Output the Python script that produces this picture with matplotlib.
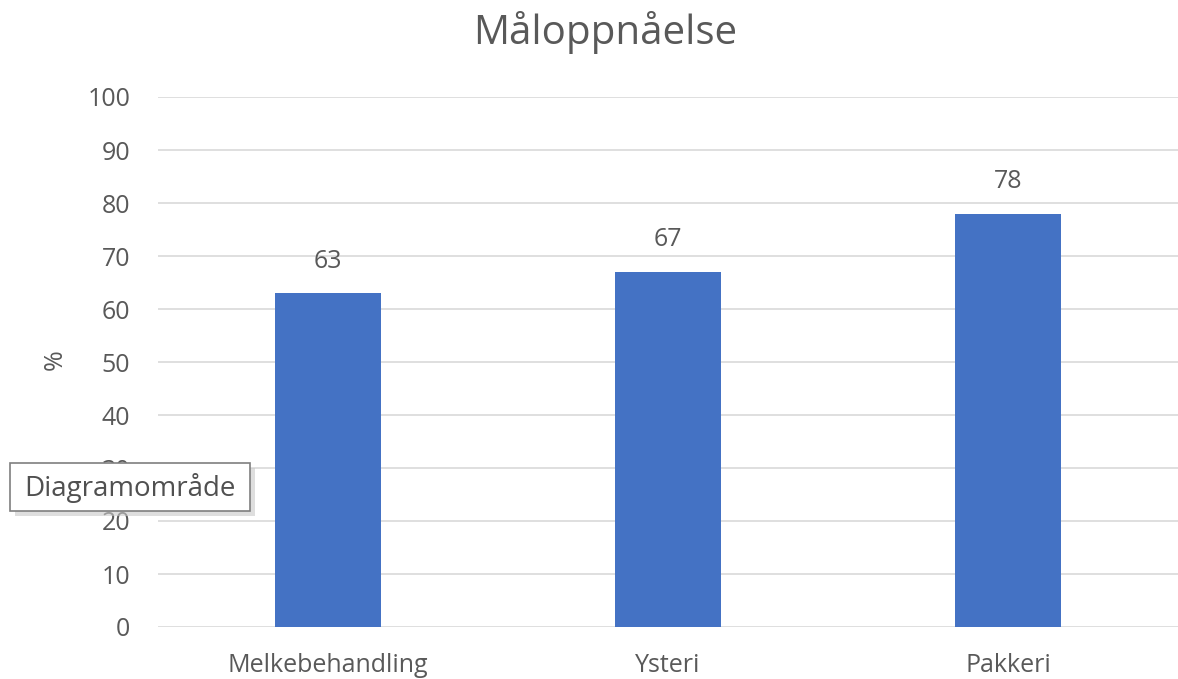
import matplotlib.pyplot as plt
from matplotlib.patches import FancyBboxPatch

categories = ["Melkebehandling", "Ysteri", "Pakkeri"]
values = [63, 67, 78]
yticks = list(range(0, 101, 10))

plt.rcParams['font.family'] = ['Open Sans', 'DejaVu Sans']
text_color = '#595959'

fig = plt.figure(figsize=(11.78, 6.79), dpi=100)
ax = fig.add_axes([158/1178, 1 - 627/679, 1 - 158/1178, (627 - 97)/679])

x = list(range(len(categories)))
bars = ax.bar(x, values, width=0.31, color='#4472C4', zorder=3)
for xi, v in zip(x, values):
    ax.annotate(str(v), (xi, v), xytext=(0, 23), textcoords='offset points',
                ha='center', va='center', fontsize=18, color=text_color)

ax.set_xlim(-0.5, len(categories) - 0.5)
ax.set_ylim(0, 100)
ax.set_yticks(yticks)
ax.set_yticklabels([str(t) for t in yticks], fontsize=18, color=text_color)
ax.set_xticks(x)
ax.set_xticklabels(categories, fontsize=18, color=text_color)
ax.tick_params(axis='both', length=0)
ax.tick_params(axis='y', pad=20)
ax.tick_params(axis='x', pad=19)
ax.grid(axis='y', color='#D9D9D9', linewidth=1.2, zorder=0)
for s in ax.spines.values():
    s.set_visible(False)

fig.text(55/1178, 1 - 360/679, '%', rotation=90, ha='center', va='center', fontsize=18, color=text_color)
fig.text(605/1178, 1 - 32/679, 'Måloppnåelse', ha='center', va='center', fontsize=29, color=text_color)

# Tooltip overlay
shadow = FancyBboxPatch((15/1178, 1 - 516/679), 240/1178, 48/679, boxstyle='square,pad=0',
                        transform=fig.transFigure, facecolor='#C8C8C8', edgecolor='none', zorder=9, alpha=0.6)
fig.add_artist(shadow)
box = FancyBboxPatch((10/1178, 1 - 511/679), 240/1178, 48/679, boxstyle='square,pad=0',
                     transform=fig.transFigure, facecolor='white', edgecolor='#7F7F7F', linewidth=1.2, zorder=10)
fig.add_artist(box)
fig.text(130/1178, 1 - 488/679, 'Diagramområde', ha='center', va='center', fontsize=20, color='#505050', zorder=11)

fig.savefig('out.png', dpi=100)
